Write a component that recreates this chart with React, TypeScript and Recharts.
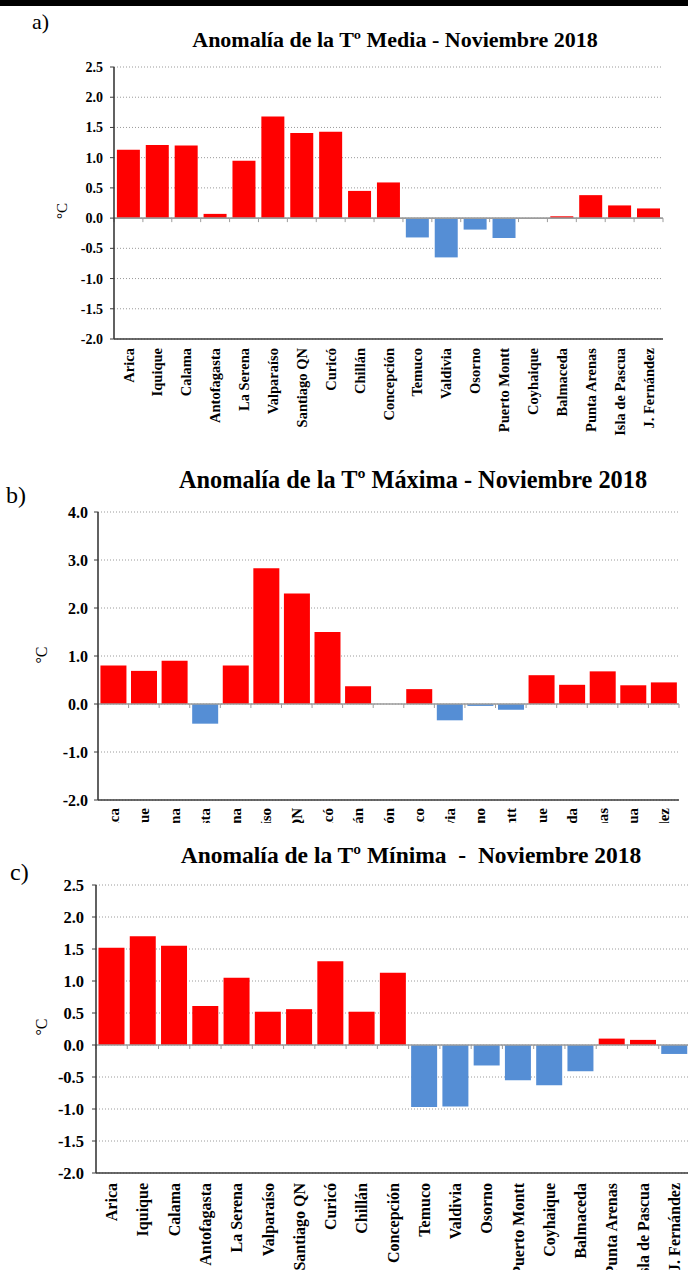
import React from 'react';
import { BarChart, Bar, Cell, XAxis, YAxis, CartesianGrid, ReferenceLine } from 'recharts';

const SERIF = '"Liberation Serif", "Times New Roman", serif';
const RED = '#ff0000';
const BLUE = '#558ed5';
const AXIS = '#3a3a3a';
const BORDER = '#6a6a6a';
const ZERO = '#9c9c9c';

const STATIONS = [
  'Arica', 'Iquique', 'Calama', 'Antofagasta', 'La Serena', 'Valparaíso', 'Santiago QN',
  'Curicó', 'Chillán', 'Concepción', 'Temuco', 'Valdivia', 'Osorno', 'Puerto Montt',
  'Coyhaique', 'Balmaceda', 'Punta Arenas', 'Isla de Pascua', 'J. Fernández',
];

// anomalies in °C, same order as STATIONS
const MEDIA = [1.13, 1.21, 1.2, 0.07, 0.95, 1.68, 1.41, 1.43, 0.45, 0.59, -0.32, -0.65, -0.19, -0.33, 0.0, 0.03, 0.38, 0.21, 0.16];
const MAXIMA = [0.8, 0.69, 0.9, -0.41, 0.8, 2.83, 2.3, 1.5, 0.37, 0.0, 0.31, -0.34, -0.04, -0.12, 0.6, 0.4, 0.68, 0.39, 0.45];
const MINIMA = [1.52, 1.7, 1.55, 0.61, 1.05, 0.52, 0.56, 1.31, 0.52, 1.13, -0.97, -0.96, -0.32, -0.55, -0.63, -0.41, 0.1, 0.08, -0.14];

const HALF_TICKS = [-2, -1.5, -1, -0.5, 0, 0.5, 1, 1.5, 2, 2.5];
const UNIT_TICKS = [-2, -1, 0, 1, 2, 3, 4];

const toRows = (values: number[]) => STATIONS.map((station, i) => ({ station, value: values[i] }));

// zero line with small tick marks between categories
const zeroLine = (count: number) => (props: any) => {
  const { x1, y1, x2 } = props;
  const step = (x2 - x1) / count;
  return (
    <g>
      <line x1={x1} y1={y1} x2={x2} y2={y1} stroke={ZERO} strokeWidth={1.6} />
      {Array.from({ length: count + 1 }, (_, i) => (
        <line key={i} x1={x1 + i * step} x2={x1 + i * step} y1={y1} y2={y1 + 4} stroke={ZERO} strokeWidth={1} />
      ))}
    </g>
  );
};

const StationTick = ({ x, y, payload, fontSize }: any) => (
  <text
    x={x}
    y={y}
    transform={`rotate(-90, ${x}, ${y})`}
    textAnchor="end"
    dy="0.35em"
    fontFamily={SERIF}
    fontWeight="bold"
    fontSize={fontSize}
    fill="#000"
  >
    {payload.value}
  </text>
);

type PanelProps = {
  letter: string;
  title: string;
  values: number[];
  ticks: number[];
  top: number;
  clip: number;
  width: number;
  height: number;
  marginTop: number;
  marginRight: number;
  axisWidth: number;
  xAxisHeight: number;
  tickFont: number;
  tickGap: number;
  labelFont: number;
  labelGap: number;
  categoryGap: string;
  letterPos: [number, number, number];
  titlePos: [number, number, number];
  unitPos: [number, number, number];
};

const Panel = (p: PanelProps) => {
  const rows = toRows(p.values);
  const domain: [number, number] = [p.ticks[0], p.ticks[p.ticks.length - 1]];
  return (
    <>
      <div
        style={{
          position: 'absolute', left: p.letterPos[0], top: p.letterPos[1] - p.letterPos[2] / 2,
          fontFamily: SERIF, fontSize: p.letterPos[2], lineHeight: 1,
        }}
      >
        {p.letter}
      </div>
      <div
        style={{
          position: 'absolute', left: p.titlePos[0] - 350, width: 700, top: p.titlePos[1] - p.titlePos[2] / 2,
          textAlign: 'center', fontFamily: SERIF, fontWeight: 'bold', fontSize: p.titlePos[2], lineHeight: 1,
          whiteSpace: 'pre',
        }}
      >
        {p.title}
      </div>
      <div
        style={{
          position: 'absolute', left: p.unitPos[0] - 20, top: p.unitPos[1] - 10, width: 40, height: 20,
          lineHeight: '20px', textAlign: 'center', transform: 'rotate(-90deg)',
          fontFamily: SERIF, fontSize: p.unitPos[2],
        }}
      >
        °C
      </div>
      <div style={{ position: 'absolute', left: 0, top: p.top, width: p.width, height: p.clip, overflow: 'hidden' }}>
        <BarChart
          width={p.width}
          height={p.height}
          data={rows}
          margin={{ top: p.marginTop, right: p.marginRight, bottom: 0, left: 0 }}
          barCategoryGap={p.categoryGap}
        >
          <CartesianGrid vertical={false} stroke="#9a9a9a" strokeDasharray="1 2" />
          <XAxis
            dataKey="station"
            interval={0}
            height={p.xAxisHeight}
            tickSize={0}
            tickMargin={p.labelGap}
            tickLine={false}
            axisLine={{ stroke: AXIS, strokeWidth: 1.6 }}
            tick={(t: any) => <StationTick {...t} fontSize={p.labelFont} />}
          />
          <XAxis
            xAxisId="top"
            orientation="top"
            dataKey="station"
            height={0}
            tick={false}
            tickLine={false}
            axisLine={{ stroke: BORDER, strokeWidth: 1.6 }}
          />
          <YAxis
            type="number"
            domain={domain}
            ticks={p.ticks}
            interval={0}
            width={p.axisWidth}
            tickSize={4}
            tickMargin={p.tickGap}
            tickFormatter={(v: number) => v.toFixed(1)}
            tickLine={{ stroke: AXIS }}
            axisLine={{ stroke: AXIS, strokeWidth: 1.6 }}
            tick={{ fontFamily: SERIF, fontWeight: 'bold', fontSize: p.tickFont, fill: '#000' }}
          />
          <YAxis
            yAxisId="right"
            orientation="right"
            width={0}
            tick={false}
            tickLine={false}
            axisLine={{ stroke: BORDER, strokeWidth: 1.6 }}
          />
          <Bar dataKey="value" isAnimationActive={false}>
            {rows.map((r) => (
              <Cell key={r.station} fill={r.value < 0 ? BLUE : RED} />
            ))}
          </Bar>
          <ReferenceLine y={0} shape={zeroLine(STATIONS.length)} />
        </BarChart>
      </div>
    </>
  );
};

export default function App() {
  return (
    <div
      style={{
        position: 'absolute', left: 0, top: 0, width: 688, height: 1270,
        overflow: 'hidden', background: '#fff', color: '#000',
      }}
    >
      <div style={{ position: 'absolute', left: 0, top: 0, width: 688, height: 6, background: '#000' }} />
      <Panel
        letter="a)"
        title="Anomalía de la Tº Media - Noviembre 2018"
        values={MEDIA}
        ticks={HALF_TICKS}
        top={0}
        clip={450}
        width={688}
        height={450}
        marginTop={67}
        marginRight={25}
        axisWidth={114}
        xAxisHeight={111}
        tickFont={14}
        tickGap={7}
        labelFont={14.5}
        labelGap={9}
        categoryGap="10%"
        letterPos={[32, 22, 22]}
        titlePos={[395, 40, 22]}
        unitPos={[62, 211, 15]}
      />
      <Panel
        letter="b)"
        title="Anomalía de la Tº Máxima - Noviembre 2018"
        values={MAXIMA}
        ticks={UNIT_TICKS}
        top={455}
        clip={368}
        width={688}
        height={520}
        marginTop={57}
        marginRight={9}
        axisWidth={98}
        xAxisHeight={175}
        tickFont={16}
        tickGap={6}
        labelFont={15}
        labelGap={8}
        categoryGap="8%"
        letterPos={[6, 495, 24]}
        titlePos={[413, 480, 24.3]}
        unitPos={[42, 655, 16]}
      />
      <Panel
        letter="c)"
        title="Anomalía de la Tº Mínima  -  Noviembre 2018"
        values={MINIMA}
        ticks={HALF_TICKS}
        top={835}
        clip={435}
        width={700}
        height={435}
        marginTop={50}
        marginRight={10}
        axisWidth={96}
        xAxisHeight={97}
        tickFont={16.5}
        tickGap={8}
        labelFont={16}
        labelGap={10}
        categoryGap="8%"
        letterPos={[10, 872, 24]}
        titlePos={[411, 856, 23.5]}
        unitPos={[42, 1027, 16]}
      />
    </div>
  );
}
